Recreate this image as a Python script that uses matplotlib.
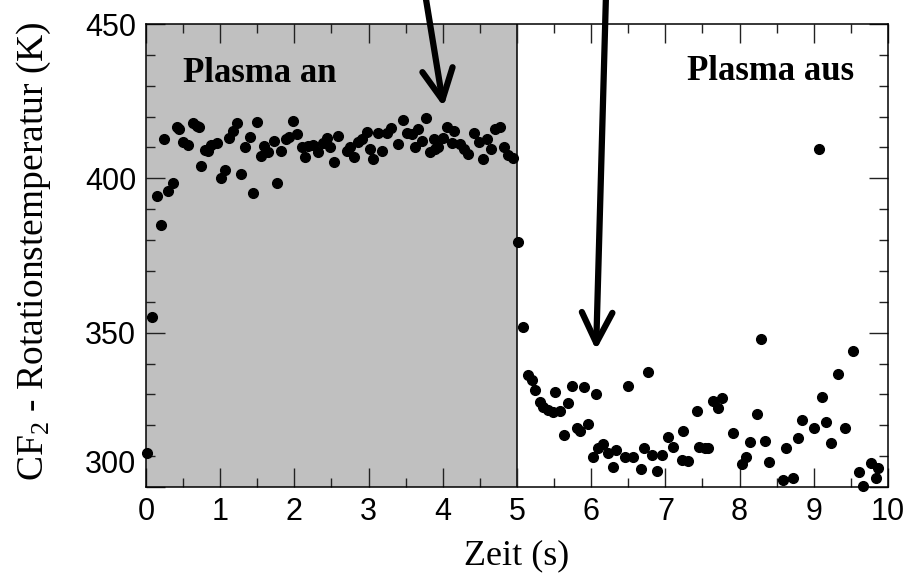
import numpy as np
import matplotlib
matplotlib.use("Agg")
import matplotlib.pyplot as plt
from matplotlib.transforms import ScaledTranslation

plt.rcParams['mathtext.fontset'] = 'custom'
plt.rcParams['mathtext.rm'] = 'Liberation Serif'

# CF2 rotational temperature, plasma on (0-5 s)
t_on = [0.01, 0.086, 0.146, 0.2, 0.244, 0.298, 0.361, 0.423, 0.45, 0.504,
        0.571, 0.631, 0.693, 0.72, 0.743, 0.796, 0.841, 0.873, 0.962, 1.008,
        1.066, 1.124, 1.178, 1.232, 1.282, 1.336, 1.403, 1.447, 1.493, 1.547,
        1.592, 1.65, 1.726, 1.771, 1.821, 1.888, 1.933, 1.987, 2.032, 2.1,
        2.144, 2.189, 2.256, 2.323, 2.383, 2.437, 2.481, 2.535, 2.593, 2.706,
        2.751, 2.809, 2.863, 2.908, 2.976, 3.02, 3.065, 3.132, 3.178, 3.245,
        3.299, 3.402, 3.461, 3.523, 3.582, 3.627, 3.671, 3.725, 3.775, 3.829,
        3.883, 3.896, 3.941, 4.0, 4.054, 4.121, 4.152, 4.233, 4.287, 4.345,
        4.422, 4.493, 4.547, 4.601, 4.651, 4.705, 4.772, 4.826, 4.884, 4.951]
T_on = [310.9, 355.2, 394.3, 384.9, 412.6, 395.9, 398.6, 416.5, 415.9, 411.7,
        410.8, 417.8, 416.9, 416.5, 404.1, 409.2, 408.9, 410.8, 411.3, 400.2,
        402.7, 413.1, 415.4, 417.8, 401.3, 410.2, 413.5, 395.1, 418.1, 407.2,
        410.5, 408.6, 412.2, 398.6, 408.8, 412.6, 413.3, 418.6, 414.4, 410.0,
        406.8, 410.5, 410.8, 408.6, 411.5, 413.0, 410.0, 405.4, 413.8, 408.9,
        410.2, 407.0, 411.9, 412.6, 415.1, 409.4, 406.3, 414.8, 408.8, 414.6,
        416.4, 411.1, 418.9, 414.8, 414.4, 410.2, 415.9, 412.1, 419.4, 408.6,
        412.6, 409.4, 410.2, 413.0, 416.5, 411.5, 415.4, 411.1, 409.4, 407.9,
        414.8, 411.9, 406.3, 412.7, 409.4, 415.9, 416.5, 410.2, 407.5, 406.5]

# plasma off (5-10 s)
t_off = [5.019, 5.086, 5.154, 5.199, 5.244, 5.311, 5.356, 5.423, 5.491, 5.513,
         5.581, 5.639, 5.685, 5.739, 5.806, 5.85, 5.904, 5.962, 6.022, 6.066,
         6.097, 6.164, 6.232, 6.299, 6.332, 6.457, 6.501, 6.569, 6.672, 6.713,
         6.763, 6.825, 6.892, 6.96, 7.04, 7.1, 7.221, 7.243, 7.31, 7.431,
         7.458, 7.535, 7.58, 7.639, 7.706, 7.76, 7.916, 8.03, 8.084, 8.142,
         8.24, 8.286, 8.344, 8.402, 8.582, 8.627, 8.725, 8.792, 8.846, 9.004,
         9.071, 9.116, 9.166, 9.233, 9.332, 9.422, 9.534, 9.61, 9.668, 9.772,
         9.836, 9.87]
T_off = [379.5, 351.7, 336.3, 334.7, 331.4, 327.6, 326.0, 324.9, 324.4, 330.7,
         324.7, 316.8, 327.3, 332.7, 319.0, 318.2, 332.3, 320.4, 309.6, 330.0,
         312.5, 313.9, 310.9, 306.6, 312.0, 309.6, 332.7, 309.6, 305.7, 312.5,
         337.4, 310.4, 305.3, 310.4, 316.1, 313.1, 308.7, 318.2, 308.5, 324.6,
         313.1, 312.7, 312.5, 328.0, 325.5, 328.7, 317.4, 307.4, 309.6, 314.7,
         323.6, 347.8, 315.0, 308.0, 302.3, 312.5, 303.0, 315.8, 321.7, 319.0,
         409.5, 329.1, 321.2, 314.4, 336.5, 319.0, 344.1, 305.0, 300.4, 307.7,
         302.8, 306.1]

plasma_off_time = 5.0
arrow_tips = [(4.01, 423.2), (6.066, 344.4)]
arrow_starts = [(3.76, 460.0), (6.2, 460.0)]

fig = plt.figure(figsize=(9.2, 5.76), dpi=100)
ax = fig.add_axes([0.1587, 0.1545, 0.8065, 0.8038])

ax.axvspan(0, plasma_off_time, color='#c0c0c0', lw=0, zorder=0)
ax.axvline(plasma_off_time, color='black', lw=1.1, zorder=1)

t_all = np.concatenate([t_on, t_off])
T_all = np.concatenate([T_on, T_off])
ax.plot(t_all, T_all, 'o', color='black', ms=7, mec='black', clip_on=False, zorder=3)

ax.set_xlim(0, 10)
ax.set_ylim(300, 450)
ax.set_xticks(np.arange(0, 11, 1))
ax.set_xticks(np.arange(0, 10.01, 0.5), minor=True)
ax.set_yticks([300, 350, 400, 450])
ax.set_yticks(np.arange(300, 451, 10), minor=True)

sans = 'Liberation Sans'
serif = 'Liberation Serif'
ax.tick_params(which='both', direction='in', top=True, right=True,
               width=1.0, color='#222222')
ax.tick_params(which='major', length=13.5)
ax.tick_params(which='minor', length=6.7)
ax.tick_params(axis='x', pad=7)
ax.tick_params(axis='y', pad=7)
for lbl in ax.get_xticklabels() + ax.get_yticklabels():
    lbl.set_fontfamily(sans)
    lbl.set_fontsize(22)

# lift the lowest y label so it clears the x-axis "0"
low = ax.yaxis.get_major_ticks()[0].label1
low.set_transform(low.get_transform() + ScaledTranslation(0, 0.26, fig.dpi_scale_trans))

for s in ax.spines.values():
    s.set_linewidth(1.1)

ax.set_xlabel('Zeit (s)', fontfamily=serif, fontsize=26, labelpad=9)
ax.set_ylabel(r'CF$_\mathregular{2}$ - Rotationstemperatur (K)', fontfamily=serif, fontsize=27)
ax.yaxis.set_label_coords(-0.125, 0.51)

ax.text(0.5, 431.3, 'Plasma an', fontfamily=serif, fontweight='bold', fontsize=25)
ax.text(7.29, 432.0, 'Plasma aus', fontfamily=serif, fontweight='bold', fontsize=25)

for tip, start in zip(arrow_tips, arrow_starts):
    ax.annotate('', xy=tip, xytext=start, annotation_clip=False,
                arrowprops=dict(arrowstyle='->,head_length=2.2,head_width=1.1',
                                lw=4.5, color='black', shrinkA=0, shrinkB=0,
                                mutation_scale=10))

fig.savefig('out.png', dpi=100)
